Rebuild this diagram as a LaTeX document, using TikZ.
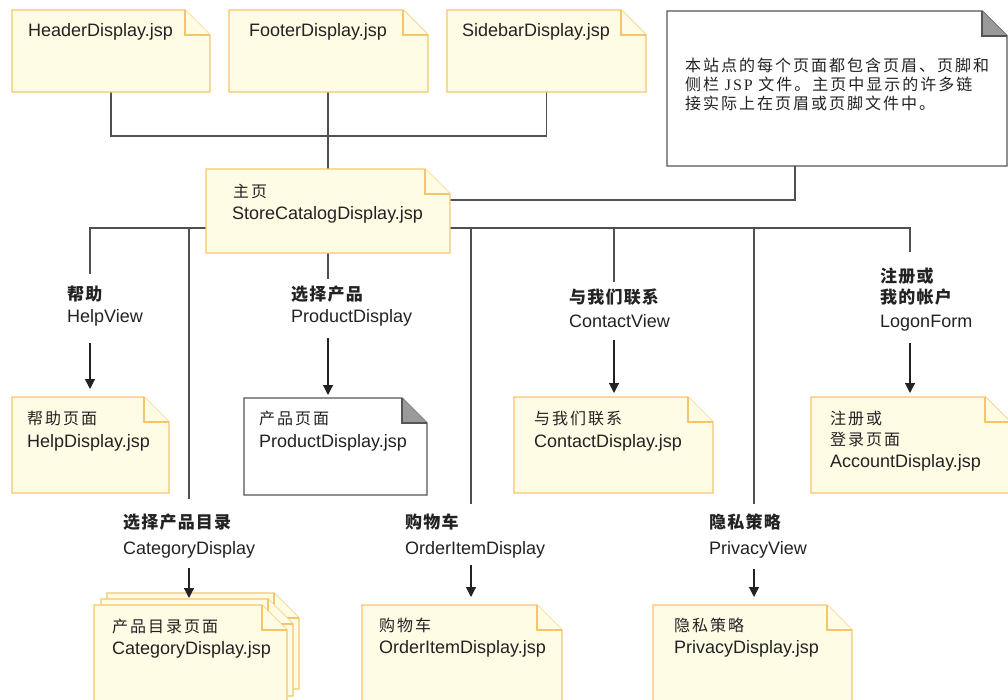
\documentclass[tikz,border=0pt]{standalone}
\usepackage{fontspec}
\setmainfont{Liberation Sans}
\newfontfamily\cjk[LetterSpace=12.5]{Noto Sans CJK SC}
\newfontfamily\cjkb[LetterSpace=7]{Noto Sans CJK SC}
\newfontfamily\serifl[LetterSpace=12.5]{Liberation Serif}
\usetikzlibrary{arrows.meta}
\definecolor{cream}{HTML}{FFFCE6}
\definecolor{gold}{HTML}{F3C66B}
\definecolor{wirec}{HTML}{505050}
\definecolor{ink}{HTML}{222222}
\definecolor{greyfold}{HTML}{9A9A9A}
\definecolor{greyedge}{HTML}{555555}
\pgfdeclarelayer{background}
\pgfsetlayers{background,main}
\tikzset{
  frame/.style={draw=none, inner sep=0pt, outer sep=0pt, anchor=north west},
  lat/.style={inner sep=0pt, anchor=base west, text=ink, font=\fontsize{18}{21}\selectfont},
  cjr/.style={inner sep=0pt, anchor=base west, text=ink, font=\cjk\fontsize{16}{18}\selectfont},
  cjbold/.style={inner sep=0pt, anchor=base west, text=ink, font=\cjkb\bfseries\fontsize{17}{19}\selectfont},
  wire/.style={draw=wirec, line width=1.3pt},
  arr/.style={draw=ink, line width=1.2pt, -{Triangle[length=10pt,width=10pt]}},
}
\newcommand\docshape[4]{%
  \path[draw=#3, fill=#2, line width=1.4pt, line join=miter]
    (#1.north west) -- ([xshift=-25pt]#1.north east) -- ([yshift=-25pt]#1.north east)
    -- (#1.south east) -- (#1.south west) -- cycle;
  \path[draw=#3, fill=#4, line width=1.4pt, line join=miter]
    ([xshift=-25pt]#1.north east) -- ([xshift=-25pt,yshift=-25pt]#1.north east)
    -- ([yshift=-25pt]#1.north east);}
\begin{document}
\begin{tikzpicture}[x=1pt,y=-1pt]
\useasboundingbox (0,0) rectangle (1008,700);
\clip (0,0) rectangle (1008,700);
% frames
\node[frame,minimum width=198,minimum height=82] (hdr) at (12,10) {};
\node[frame,minimum width=199,minimum height=82] (ftr) at (229,10) {};
\node[frame,minimum width=199,minimum height=82] (sid) at (447,10) {};
\node[frame,minimum width=340,minimum height=155] (note) at (667,11) {};
\node[frame,minimum width=244,minimum height=84] (home) at (206,169) {};
\node[frame,minimum width=157,minimum height=96] (helpd) at (12,397) {};
\node[frame,minimum width=183,minimum height=97] (prodd) at (244,398) {};
\node[frame,minimum width=199,minimum height=96] (contd) at (514,397) {};
\node[frame,minimum width=199,minimum height=96] (accd) at (811,397) {};
\node[frame,minimum width=192,minimum height=96] (catback) at (107,593) {};
\node[frame,minimum width=192,minimum height=97] (catmid) at (101,599) {};
\node[frame,minimum width=193,minimum height=105] (catd) at (94,605) {};
\node[frame,minimum width=200,minimum height=105] (ordd) at (362,605) {};
\node[frame,minimum width=199,minimum height=105] (privd) at (653,605) {};
% shapes
\docshape{hdr}{cream}{gold}{cream}
\docshape{ftr}{cream}{gold}{cream}
\docshape{sid}{cream}{gold}{cream}
\docshape{note}{white}{greyedge}{greyfold}
\docshape{home}{cream}{gold}{cream}
\docshape{helpd}{cream}{gold}{cream}
\docshape{prodd}{white}{greyedge}{greyfold}
\docshape{contd}{cream}{gold}{cream}
\docshape{accd}{cream}{gold}{cream}
\docshape{catback}{cream}{gold}{cream}
\docshape{catmid}{cream}{gold}{cream}
\docshape{catd}{cream}{gold}{cream}
\docshape{ordd}{cream}{gold}{cream}
\docshape{privd}{cream}{gold}{cream}
% texts in boxes
\node[lat] (hdr-t) at (28,37) {HeaderDisplay.jsp};
\node[lat] (ftr-t) at (249,37) {FooterDisplay.jsp};
\node[lat] (sid-t) at (462,37) {SidebarDisplay.jsp};
\node[cjr] (note-t1) at (685,72) {本站点的每个页面都包含页眉、页脚和};
\node[cjr] (note-t2) at (685,91) {侧栏 {\serifl JSP} 文件。主页中显示的许多链};
\node[cjr] (note-t3) at (685,109.5) {接实际上在页眉或页脚文件中。};
\node[cjr] (home-t1) at (233,198) {主页};
\node[lat] (home-t2) at (232,220) {StoreCatalogDisplay.jsp};
\node[cjr] (helpd-t1) at (27,424) {帮助页面};
\node[lat] (helpd-t2) at (27,447) {HelpDisplay.jsp};
\node[cjr] (prodd-t1) at (259,424) {产品页面};
\node[lat] (prodd-t2) at (259,447) {ProductDisplay.jsp};
\node[cjr] (contd-t1) at (534,424) {与我们联系};
\node[lat] (contd-t2) at (534,447) {ContactDisplay.jsp};
\node[cjr] (accd-t1) at (830,424) {注册或};
\node[cjr] (accd-t2) at (830,445) {登录页面};
\node[lat] (accd-t3) at (830,467) {AccountDisplay.jsp};
\node[cjr] (catd-t1) at (112,632) {产品目录页面};
\node[lat] (catd-t2) at (112,654) {CategoryDisplay.jsp};
\node[cjr] (ordd-t1) at (379,631) {购物车};
\node[lat] (ordd-t2) at (379,653) {OrderItemDisplay.jsp};
\node[cjr] (privd-t1) at (674,631) {隐私策略};
\node[lat] (privd-t2) at (674,653) {PrivacyDisplay.jsp};
% branch labels
\node[cjbold] (help-l1) at (67,301) {帮助};
\node[lat] (help-l2) at (67,322) {HelpView};
\node[cjbold] (prod-l1) at (291,301) {选择产品};
\node[lat] (prod-l2) at (291,322) {ProductDisplay};
\node[cjbold] (cont-l1) at (569,304) {与我们联系};
\node[lat] (cont-l2) at (569,327) {ContactView};
\node[cjbold] (acc-l1) at (880,283) {注册或};
\node[cjbold] (acc-l2) at (880,304) {我的帐户};
\node[lat] (acc-l3) at (880,327) {LogonForm};
\node[cjbold] (cat-l1) at (123,528) {选择产品目录};
\node[lat] (cat-l2) at (123,554) {CategoryDisplay};
\node[cjbold] (ord-l1) at (405,528) {购物车};
\node[lat] (ord-l2) at (405,554) {OrderItemDisplay};
\node[cjbold] (priv-l1) at (709,528) {隐私策略};
\node[lat] (priv-l2) at (709,554) {PrivacyView};
% coordinates
\coordinate (busL) at ([yshift=-17pt]home.west);
\coordinate (busR) at ([yshift=-17pt]home.east);
\coordinate (helpt) at (90,274);
\coordinate (catt) at (189,499);
\coordinate (ordt) at (471,504);
\coordinate (contt) at (614,282);
\coordinate (privt) at (754,504);
\coordinate (acct) at (910,252);
\coordinate (helpa) at (90,343);
\coordinate (proda) at (328,338);
\coordinate (conta) at (614,340);
\coordinate (acca) at (910,343);
\coordinate (cata) at (189,568);
\coordinate (orda) at (471,565);
\coordinate (priva) at (754,569);
\begin{pgfonlayer}{background}
\draw[wire] (hdr.south) -- ++(0,44) -| (sid.south);
\draw[wire] ([xshift=-0.5pt]ftr.south) -- ([xshift=-0.5pt]ftr.south |- home.north);
\draw[wire] ([xshift=-42pt]note.south) |- ([yshift=11pt]home.east);
\draw[wire] (busL) -| (helpt);
\draw[wire] (catt |- busL) -- (catt);
\draw[wire] (busR) -| (acct);
\draw[wire] (ordt |- busR) -- (ordt);
\draw[wire] (contt |- busR) -- (contt);
\draw[wire] (privt |- busR) -- (privt);
\draw[wire] (home.south) -- ++(0,26);
\end{pgfonlayer}
\draw[arr, shorten >=8pt] (helpa) -- (helpa |- helpd.north);
\draw[arr, shorten >=3pt] (proda) -- (proda |- prodd.north);
\draw[arr, shorten >=4pt] (conta) -- (conta |- contd.north);
\draw[arr, shorten >=4pt] (acca) -- (acca |- accd.north);
\draw[arr, shorten >=8pt] (orda) -- (orda |- ordd.north);
\draw[arr, shorten >=8pt] (priva) -- (priva |- privd.north);
\draw[white, line width=4pt, shorten >=-3pt] ([yshift=-14pt]cata) -- (cata |- catback.north);
\draw[arr, shorten >=-5pt] (cata) -- (cata |- catback.north);
\end{tikzpicture}
\end{document}
